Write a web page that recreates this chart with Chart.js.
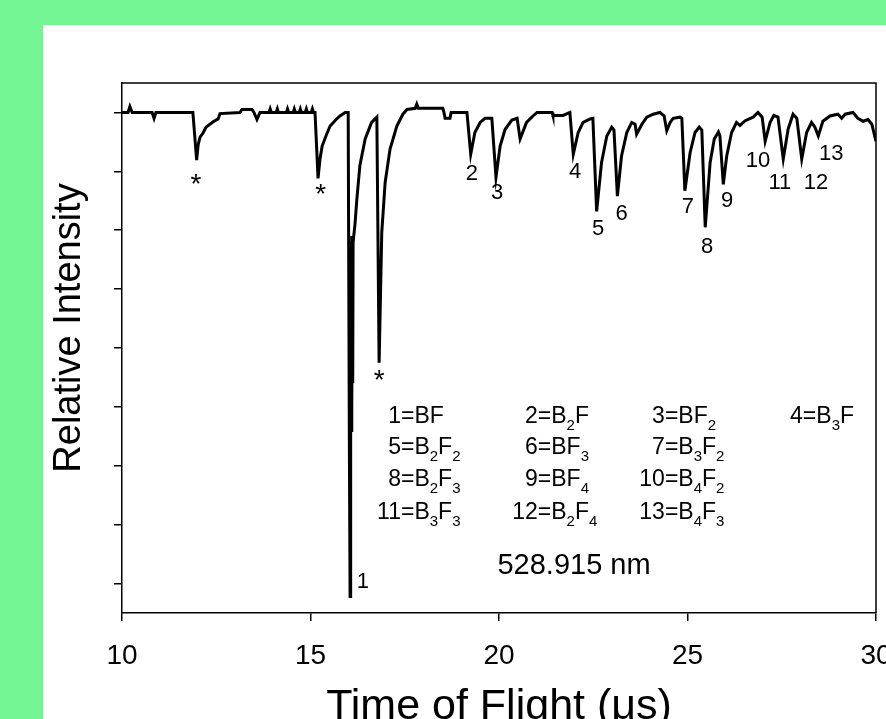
<!DOCTYPE html>
<html>
<head>
<meta charset="utf-8">
<script src="https://cdn.jsdelivr.net/npm/chart.js@4.4.1/dist/chart.umd.min.js"></script>
<style>
  html, body { margin: 0; padding: 0; background: #73f593; width: 886px; height: 719px; overflow: hidden; }
  #panel { position: absolute; left: 43px; top: 25px; width: 843px; height: 694px; background: #fff; overflow: hidden; }
  #box { position: relative; width: 880px; height: 730px; }
</style>
</head>
<body>
<div id="panel"><div id="box"><canvas id="tofChart"></canvas></div></div>
<script>
// time of flight spectrum, 528.915 nm

const tof = [
  10.00, 10.16, 10.21, 10.27, 10.80, 10.85, 10.90, 11.88, 11.98, 12.02, 12.07, 12.15, 12.23, 12.33, 12.44, 12.55, 12.60,
  13.13, 13.18, 13.45, 13.50, 13.58, 13.66,
  13.90, 13.93, 13.96, 14.09, 14.12, 14.15, 14.36, 14.39, 14.42, 14.54, 14.57, 14.60, 14.70, 14.73, 14.76,
  14.86, 14.89, 14.92, 15.02, 15.05, 15.08,
  15.12, 15.20, 15.25, 15.31, 15.41, 15.52, 15.68, 15.78, 15.92, 16.00,
  16.03, 16.05, 16.06, 16.07, 16.08, 16.09, 16.10, 16.11, 16.12, 16.13, 16.18, 16.23, 16.31, 16.45, 16.62, 16.76,
  16.82, 16.89, 16.98, 17.11, 17.29, 17.45, 17.56, 17.78, 17.82, 17.86, 18.51, 18.54, 18.57, 18.70, 18.73,
  19.15, 19.25, 19.36, 19.50, 19.63, 19.81, 19.92, 20.03, 20.16, 20.34, 20.48, 20.56, 20.73, 20.90, 21.01,
  21.41, 21.43, 21.70, 21.88, 21.97, 22.10, 22.23, 22.42, 22.49, 22.59, 22.72, 22.86, 22.99, 23.05,
  23.14, 23.25, 23.39, 23.52, 23.61, 23.65, 23.79, 23.92, 24.09, 24.27, 24.38, 24.45, 24.54, 24.62,
  24.80, 24.85, 24.93, 25.07, 25.20, 25.31, 25.38, 25.47, 25.60, 25.71, 25.82, 25.86, 25.95, 26.04,
  26.17, 26.30, 26.39, 26.53, 26.74, 26.87, 26.98, 27.06, 27.19, 27.29, 27.40, 27.54, 27.67, 27.80,
  27.90, 28.03, 28.16, 28.29, 28.38, 28.47, 28.59, 28.78, 28.99, 29.09, 29.18, 29.39, 29.52, 29.66,
  29.79, 29.89, 30.00
];
const intensity = [
  0, 0, 0.1, 0, 0, -0.1, 0, 0, -0.81, -0.55, -0.42, -0.35, -0.25, -0.2, -0.15, -0.11, -0.02,
  0, 0.05, 0.05, 0, -0.12, 0,
  0, 0.06, 0, 0, 0.06, 0, 0, 0.06, 0, 0, 0.06, 0, 0, 0.06, 0,
  0, 0.06, 0, 0, 0.06, 0,
  0, -1.12, -0.8, -0.57, -0.4, -0.23, -0.12, -0.06, 0, 0,
  -5.5, -8.22, -5.6, -2.2, -5.4, -2.1, -5.0, -2.3, -4.6, -2.2, -1.9, -1.47, -0.9, -0.45, -0.17, -0.08,
  -4.25, -2.04, -1.19, -0.62, -0.23, -0.03, 0.05, 0.07, 0.14, 0.07, 0.07, 0, -0.1, -0.1, 0,
  0, -0.71, -0.34, -0.17, -0.1, -0.1, -1.1, -0.57, -0.29, -0.13, -0.1, -0.45, -0.17, -0.06, 0,
  0, -0.05, -0.05, 0, -0.71, -0.34, -0.17, -0.11, -0.1, -1.68, -0.85, -0.4, -0.25, -0.3,
  -1.42, -0.74, -0.34, -0.17, -0.2, -0.37, -0.2, -0.08, -0.03, 0, -0.06, -0.31, -0.17, -0.1,
  -0.08, -0.1, -1.33, -0.68, -0.34, -0.25, -0.3, -1.95, -0.85, -0.45, -0.33, -0.4, -1.22, -0.74,
  -0.34, -0.17, -0.22, -0.14, -0.08, 0, -0.08, -0.49, -0.17, -0.05, -0.08, -0.79, -0.28, -0.03,
  -0.1, -0.79, -0.34, -0.17, -0.25, -0.4, -0.15, -0.06, -0.03, -0.1, -0.03, 0, -0.1, -0.15,
  -0.12, -0.2, -0.49
];

const xTicks = [10, 15, 20, 25, 30];
const yTicks = [0, -1, -2, -3, -4, -5, -6, -7, -8];

// peak labels (text, time, intensity)
const peakNames = ['*', '*', '*', '1', '2', '3', '4', '5', '6', '7', '8', '9', '10', '11', '12', '13'];
const peakT = [11.96, 15.27, 16.82, 16.39, 19.28, 19.95, 22.02, 22.63, 23.25, 25.01, 25.52, 26.05, 26.87, 27.45, 28.41, 28.81];
const peakV = [-1.24, -1.41, -4.56, -7.97, -1.05, -1.36, -1.01, -1.98, -1.73, -1.61, -2.29, -1.51, -0.83, -1.19, -1.19, -0.71];

// species key, "_n" = subscript
const speciesRows = [
  ['1=BF', '2=B_2F', '3=BF_2', '4=B_3F'],
  ['5=B_2F_2', '6=BF_3', '7=B_3F_2'],
  ['8=B_2F_3', '9=BF_4', '10=B_4F_2'],
  ['11=B_3F_3', '12=B_2F_4', '13=B_4F_3']
];
const keyEqT = [17.40, 21.03, 24.40, 28.06];
const keyRowV = [-5.27, -5.80, -6.35, -6.91];

const FONT = '"Liberation Sans", Arial, sans-serif';

const extras = {
  id: 'extras',
  afterDraw(chart) {
    const c = chart.ctx, a = chart.chartArea;
    const sx = chart.scales.x, sy = chart.scales.y;
    c.save();
    // box top + right
    c.strokeStyle = '#000';
    c.lineWidth = 1.5;
    c.beginPath();
    c.moveTo(a.left, a.top);
    c.lineTo(a.right, a.top);
    c.lineTo(a.right, a.bottom);
    c.stroke();

    c.fillStyle = '#000';
    // axis titles
    c.font = '38px ' + FONT;
    c.textAlign = 'center';
    c.textBaseline = 'middle';
    c.save();
    c.translate(27, 303);
    c.rotate(-Math.PI / 2);
    c.fillText('Relative Intensity', 0, 0);
    c.restore();
    c.font = '43px ' + FONT;
    c.textBaseline = 'alphabetic';
    c.fillText('Time of Flight (\u03bcs)', (a.left + a.right) / 2, 694);

    // peak labels
    c.textBaseline = 'middle';
    peakNames.forEach((n, i) => {
      c.font = (n === '*' ? '28px ' : '22px ') + FONT;
      c.fillText(n, sx.getPixelForValue(peakT[i]), sy.getPixelForValue(peakV[i]));
    });

    // species key
    c.textBaseline = 'alphabetic';
    speciesRows.forEach((row, r) => {
      const y = sy.getPixelForValue(keyRowV[r]);
      row.forEach((s, k) => {
        const x = sx.getPixelForValue(keyEqT[k]);
        const p = s.indexOf('=');
        c.font = '23px ' + FONT;
        c.textAlign = 'right';
        c.fillText(s.slice(0, p), x, y);
        c.textAlign = 'left';
        let cx = x;
        const parts = s.slice(p).split('_');
        parts.forEach((part, j) => {
          let txt = part;
          if (j > 0) {
            c.font = '15px ' + FONT;
            c.fillText(part[0], cx, y + 7);
            cx += c.measureText(part[0]).width;
            txt = part.slice(1);
          }
          c.font = '23px ' + FONT;
          c.fillText(txt, cx, y);
          cx += c.measureText(txt).width;
        });
      });
    });

    c.font = '29px ' + FONT;
    c.textAlign = 'center';
    c.textBaseline = 'middle';
    c.fillText('528.915 nm', sx.getPixelForValue(21.99), sy.getPixelForValue(-7.71));
    c.restore();
  }
};

new Chart(document.getElementById('tofChart'), {
  type: 'line',
  data: {
    datasets: [{
      data: tof.map((t, i) => ({ x: t, y: intensity[i] })),
      borderColor: '#000',
      borderWidth: 3,
      pointRadius: 0,
      tension: 0,
      fill: false
    }]
  },
  options: {
    responsive: true,
    maintainAspectRatio: false,
    animation: false,
    layout: { padding: { top: 58, left: 0, right: 47, bottom: 0 } },
    plugins: { legend: { display: false }, tooltip: { enabled: false } },
    scales: {
      x: {
        type: 'linear',
        min: 10,
        max: 30,
        afterBuildTicks: s => { s.ticks = xTicks.map(v => ({ value: v })); },
        afterFit: s => { s.height = 142; },
        ticks: { color: '#000', font: { family: FONT, size: 28 }, padding: 18, maxRotation: 0 },
        grid: { drawOnChartArea: false, drawTicks: true, tickLength: 8, color: '#000', lineWidth: 1.5 },
        border: { color: '#000', width: 1.5 }
      },
      y: {
        type: 'linear',
        min: -8.5,
        max: 0.5,
        afterBuildTicks: s => { s.ticks = yTicks.map(v => ({ value: v })); },
        afterFit: s => { s.width = 79; },
        ticks: { display: false },
        grid: { drawOnChartArea: false, drawTicks: true, tickLength: 8, color: '#000', lineWidth: 1.5 },
        border: { color: '#000', width: 1.5 }
      }
    }
  },
  plugins: [extras]
});
</script>
</body>
</html>
